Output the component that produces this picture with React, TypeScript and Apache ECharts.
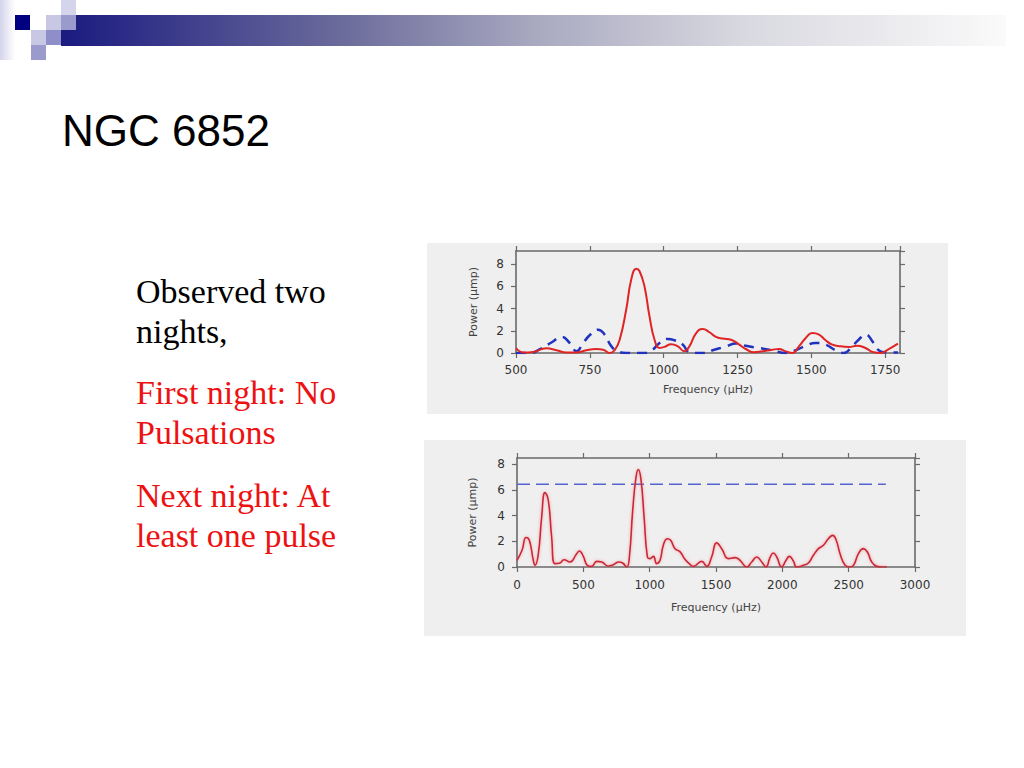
import React, { useEffect, useRef } from "react";
import * as echarts from "echarts";

// ---- Data: first panel (two nights overlaid) ----
const freq1Red = [500, 525, 558, 587, 603, 637, 671, 705, 738, 772, 795, 817, 834, 851, 873, 890, 907, 918, 935, 952, 969, 986, 1003, 1025, 1048, 1070, 1087, 1110, 1132, 1155, 1177, 1200, 1228, 1256, 1278, 1306, 1334, 1368, 1391, 1413, 1436, 1458, 1481, 1503, 1526, 1548, 1571, 1599, 1627, 1655, 1683, 1711, 1734, 1762, 1793];
const power1Red = [0.45, 0.05, 0.1, 0.35, 0.42, 0.25, 0.05, 0.05, 0.25, 0.35, 0.3, 0.0, 0.25, 1.2, 3.9, 6.6, 7.6, 7.4, 6.0, 3.3, 1.2, 0.45, 0.55, 0.8, 0.6, 0.15, 0.6, 1.8, 2.17, 1.87, 1.45, 1.3, 1.2, 0.75, 0.36, 0.06, 0.15, 0.3, 0.36, 0.15, 0.0, 0.6, 1.36, 1.8, 1.66, 1.15, 0.75, 0.6, 0.55, 0.65, 0.45, 0.06, 0.0, 0.36, 0.85];

const freq1Blue = [500, 547, 581, 620, 654, 682, 705, 727, 755, 778, 800, 823, 845, 873, 941, 963, 986, 1014, 1036, 1065, 1081, 1098, 1132, 1166, 1211, 1245, 1278, 1323, 1368, 1413, 1447, 1481, 1514, 1548, 1582, 1610, 1638, 1660, 1683, 1711, 1734, 1762, 1793];
const power1Blue = [0.0, 0.0, 0.35, 0.95, 1.45, 0.9, 0.15, 0.9, 1.75, 2.1, 1.66, 0.6, 0.15, 0.0, 0.0, 0.3, 0.9, 1.27, 1.15, 0.75, 0.15, 0.0, 0.0, 0.25, 0.6, 0.85, 0.65, 0.45, 0.25, 0.0, 0.25, 0.65, 0.9, 0.75, 0.25, 0.0, 0.6, 1.2, 1.66, 0.9, 0.15, 0.05, 0.05];

// ---- Data: second panel (next night) ----
const freq2 = [0, 38, 68, 93, 123, 136, 161, 186, 211, 236, 261, 286, 324, 354, 399, 450, 470, 500, 530, 563, 601, 638, 689, 726, 769, 796, 827, 847, 872, 897, 915, 935, 958, 983, 1003, 1028, 1053, 1078, 1103, 1133, 1158, 1191, 1228, 1266, 1304, 1329, 1392, 1430, 1467, 1505, 1543, 1593, 1643, 1681, 1731, 1769, 1807, 1845, 1877, 1907, 1932, 1958, 1995, 2028, 2053, 2083, 2108, 2159, 2196, 2234, 2272, 2310, 2347, 2380, 2405, 2435, 2473, 2506, 2536, 2574, 2611, 2641, 2674, 2712, 2750, 2787];
const power2 = [0.52, 1.3, 2.3, 2.08, 0.52, 0.13, 1.04, 3.9, 5.8, 5.2, 2.34, 0.26, 0.31, 0.57, 0.39, 1.04, 1.25, 0.83, 0.13, 0.05, 0.44, 0.39, 0.08, 0.18, 0.39, 0.31, 0.0, 0.78, 4.4, 7.0, 7.6, 6.77, 3.9, 0.78, 0.65, 0.83, 0.26, 0.52, 1.7, 2.2, 2.08, 1.43, 1.2, 0.6, 0.2, 0.05, 0.44, 0.05, 0.78, 1.88, 1.43, 0.65, 0.73, 0.52, 0.0, 0.39, 0.78, 0.39, 0.0, 0.73, 1.09, 0.78, 0.0, 0.52, 0.83, 0.47, 0.0, 0.13, 0.31, 0.91, 1.43, 1.7, 2.2, 2.47, 2.13, 1.04, 0.13, 0.0, 0.13, 1.04, 1.43, 1.17, 0.39, 0.05, 0.0, 0.0];

const thresholdFreq = [0, 2780];
const thresholdPower = 6.45;

// ---- Text ----
const titleText = "NGC 6852";
const bodyLines = [
  { text: "Observed two", color: "#000000" },
  { text: "nights,", color: "#000000" },
  { text: "First night: No", color: "#ee1111" },
  { text: "Pulsations", color: "#ee1111" },
  { text: "Next night: At", color: "#ee1111" },
  { text: "least one pulse", color: "#ee1111" },
];
const bodyY = [291, 331, 392, 432, 495, 535];
const xName = "Frequency (\u03bcHz)";
const yName = "Power (\u03bcmp)";

const zip = (a: number[], b: number[]) => a.map((v, i) => [v, b[i]]);

const AXC = "#6a6a6a";
const LBL = "#333333";
const FONT = "DejaVu Sans";
const plain = (v: number) => String(v);

function frameAxes(gridIndex: number, xmin: number, xmax: number, xint: number, ymax: number, xLabelMargin: number, xNameGap: number, yNameGap: number, showMaxX: boolean) {
  const axisLine = { show: true, onZero: false, lineStyle: { color: AXC, width: 1.6 } };
  const axisTick = { show: true, inside: false, length: 5, lineStyle: { color: AXC, width: 1.2 } };
  const xs = [
    {
      type: "value", gridIndex, position: "bottom", min: xmin, max: xmax, interval: xint,
      axisLine, axisTick, splitLine: { show: false },
      axisLabel: { color: LBL, fontFamily: FONT, fontSize: 12, margin: xLabelMargin, showMaxLabel: showMaxX, formatter: plain },
      name: xName, nameLocation: "middle", nameGap: xNameGap,
      nameTextStyle: { color: "#444", fontFamily: FONT, fontSize: 11 },
    },
    {
      type: "value", gridIndex, position: "top", min: xmin, max: xmax, interval: xint,
      axisLine, axisTick, splitLine: { show: false }, axisLabel: { show: false },
    },
  ];
  const ys = [
    {
      type: "value", gridIndex, position: "left", min: 0, max: ymax, interval: 2,
      axisLine, axisTick, splitLine: { show: false },
      axisLabel: { color: LBL, fontFamily: FONT, fontSize: 12, margin: 12, showMaxLabel: false, formatter: plain },
      name: yName, nameLocation: "middle", nameGap: yNameGap,
      nameTextStyle: { color: "#444", fontFamily: FONT, fontSize: 11 },
    },
    {
      type: "value", gridIndex, position: "right", min: 0, max: ymax, interval: 2,
      axisLine, axisTick, splitLine: { show: false }, axisLabel: { show: false },
    },
  ];
  return { xs, ys };
}

export default function App() {
  const ref = useRef<HTMLDivElement>(null);
  useEffect(() => {
    if (!ref.current) return;
    const chart = echarts.init(ref.current, undefined, { renderer: "svg" });
    const a1 = frameAxes(0, 500, 1800, 250, 9.2, 11, 31, 37, false);
    const a2 = frameAxes(1, 0, 3000, 500, 8.5, 12, 35, 39, true);

    const sq = (x: number, y: number, fill: string) => ({
      type: "rect", z: 5, shape: { x, y, width: 15, height: 15 }, style: { fill },
    });

    const graphic: any[] = [
      {
        type: "rect", z: 4, shape: { x: 0, y: 0, width: 15, height: 60 },
        style: {
          fill: { type: "linear", x: 0, y: 0, x2: 1, y2: 0, colorStops: [
            { offset: 0, color: "#d4d4ec" }, { offset: 1, color: "#ffffff" }] },
        },
      },
      {
        type: "rect", z: 4, shape: { x: 61, y: 15, width: 945, height: 31 },
        style: {
          fill: { type: "linear", x: 0, y: 0, x2: 1, y2: 0, colorStops: [
            { offset: 0, color: "#1a1a80" },
            { offset: 0.3, color: "#6c6c9c" },
            { offset: 0.5, color: "#a8a8c0" },
            { offset: 0.72, color: "#d8d8e0" },
            { offset: 1, color: "#fafafa" },
          ] },
        },
      },
      sq(15, 15, "#000080"),
      sq(46, 15, "#c8c8e4"),
      sq(61, 0, "#d4d4ec"),
      sq(61, 15, "#9a9acc"),
      sq(31, 30, "#c8c8e4"),
      sq(46, 30, "#8e8ec8"),
      sq(31, 45, "#9a9acc"),
      {
        type: "text", z: 5, x: 62, y: 130,
        style: { text: titleText, font: "44px 'Liberation Sans', Arial, sans-serif", fill: "#000", verticalAlign: "middle" },
      },
      ...bodyLines.map((l, i) => ({
        type: "text", z: 5, x: 136, y: bodyY[i],
        style: { text: l.text, font: "34px 'Liberation Serif', 'Times New Roman', serif", fill: l.color, verticalAlign: "middle" },
      })),
      { type: "rect", z: -100, shape: { x: 427, y: 243, width: 521, height: 171 }, style: { fill: "#efefef" } },
      { type: "rect", z: -100, shape: { x: 424, y: 440, width: 542, height: 196 }, style: { fill: "#efefef" } },
    ];

    chart.setOption({
      animation: false,
      backgroundColor: "#ffffff",
      graphic,
      grid: [
        { left: 516, top: 251, width: 384, height: 102 },
        { left: 517, top: 458, width: 398, height: 109 },
      ],
      xAxis: [...a1.xs, ...a2.xs],
      yAxis: [...a1.ys, ...a2.ys],
      series: [
        {
          type: "line", xAxisIndex: 0, yAxisIndex: 0, data: zip(freq1Blue, power1Blue),
          smooth: 0.5, showSymbol: false, z: 3,
          lineStyle: { color: "#2232c0", width: 2.5, type: [10, 7] },
        },
        {
          type: "line", xAxisIndex: 0, yAxisIndex: 0, data: zip(freq1Red, power1Red),
          smooth: 0.5, showSymbol: false, z: 4,
          lineStyle: { color: "#e02424", width: 2 },
        },
        {
          type: "line", xAxisIndex: 2, yAxisIndex: 2,
          data: thresholdFreq.map((f) => [f, thresholdPower]),
          showSymbol: false, z: 3,
          lineStyle: { color: "#5565d0", width: 1.5, type: [13, 6] },
        },
        {
          type: "line", xAxisIndex: 2, yAxisIndex: 2, data: zip(freq2, power2),
          smooth: 0.5, showSymbol: false, z: 4,
          lineStyle: { color: "#c8283a", width: 1.6, shadowColor: "rgba(255,90,90,0.6)", shadowBlur: 3 },
        },
      ],
    });
    return () => chart.dispose();
  }, []);
  return (
    <div
      ref={ref}
      style={{ position: "absolute", left: 0, top: 0, width: 1024, height: 768, background: "#fff" }}
    />
  );
}
